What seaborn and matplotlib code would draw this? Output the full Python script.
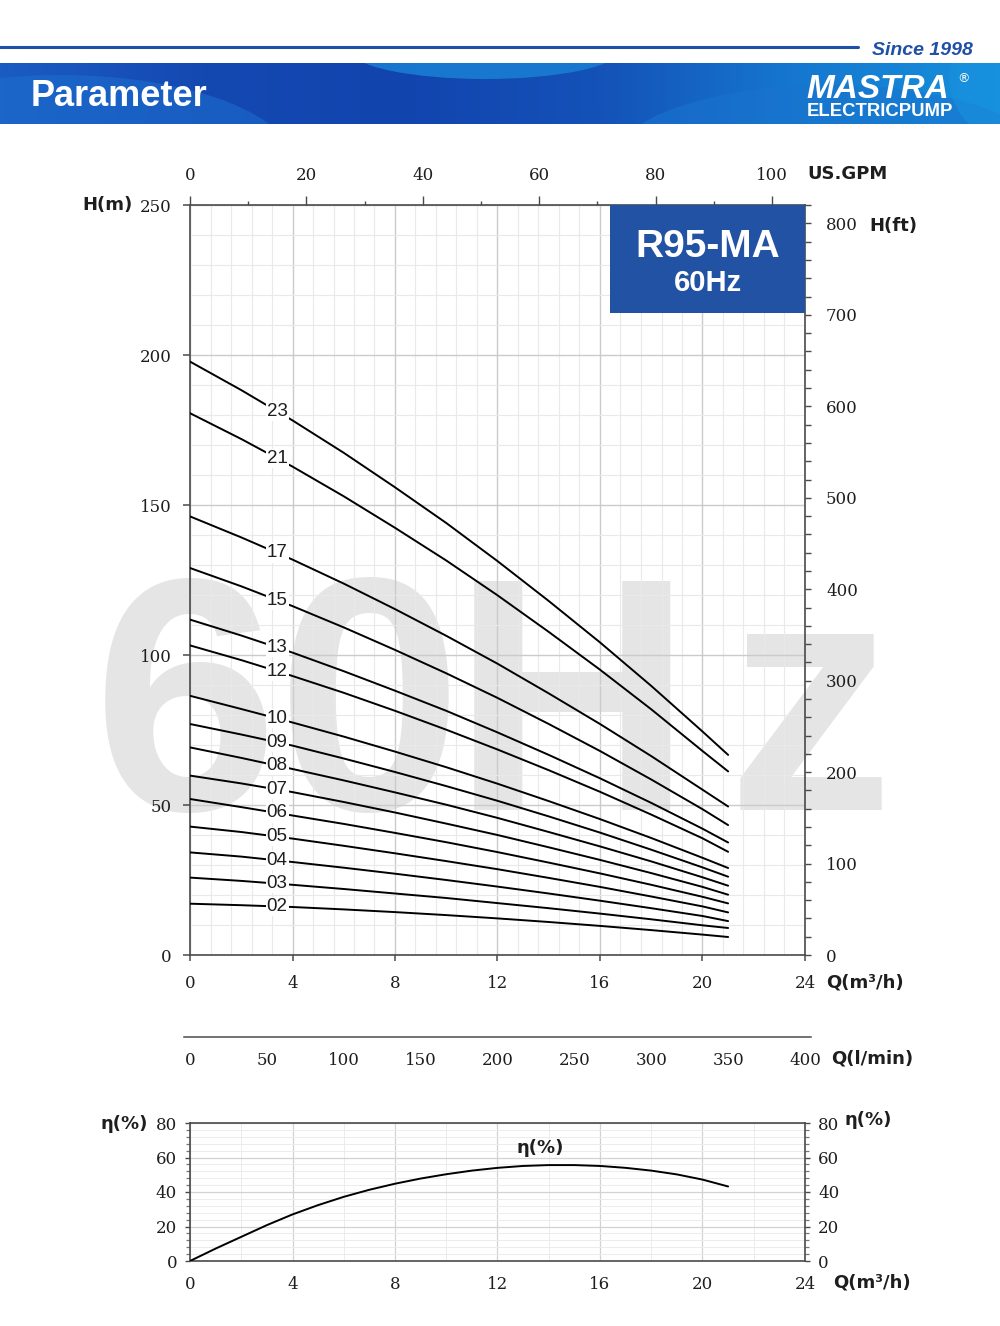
import numpy as np
import pandas as pd
import matplotlib
matplotlib.use("Agg")
import matplotlib.pyplot as plt
from matplotlib.patches import Rectangle, Ellipse
from matplotlib.ticker import MultipleLocator
from matplotlib.colors import LinearSegmentedColormap
import seaborn as sns

# ---------------- data ----------------
flow_m3h = [0, 2, 4, 6, 8, 10, 12, 14, 16, 18, 20, 21]
curve_names = ["23", "21", "17", "15", "13", "12", "10", "09", "08",
               "07", "06", "05", "04", "03", "02"]
head_23 = [197.8, 188.3, 178.2, 167.4, 155.9, 144.0, 131.3, 118.0, 104.2, 89.7, 74.5, 66.7]
head_21 = [180.6, 172.0, 162.8, 152.9, 142.4, 131.5, 119.9, 107.7, 95.1, 81.9, 68.0, 61.2]
head_17 = [146.2, 139.2, 131.8, 123.8, 115.3, 106.4, 97.1, 87.2, 77.0, 66.3, 55.1, 49.5]
head_15 = [129.0, 122.9, 116.3, 109.2, 101.7, 93.9, 85.7, 77.0, 68.0, 58.5, 48.6, 43.3]
head_13 = [111.8, 106.5, 100.8, 94.6, 88.1, 81.4, 74.2, 66.7, 58.9, 50.7, 42.1, 37.5]
head_12 = [103.2, 98.3, 93.0, 87.4, 81.4, 75.1, 68.5, 61.6, 54.4, 46.8, 38.9, 34.4]
head_10 = [86.4, 82.0, 77.5, 72.8, 67.8, 62.6, 57.1, 51.3, 45.3, 39.0, 32.4, 29.0]
head_09 = [77.0, 73.5, 69.8, 65.5, 61.0, 56.3, 51.4, 46.2, 40.8, 35.1, 29.2, 26.1]
head_08 = [69.2, 65.7, 62.0, 58.2, 54.2, 50.1, 45.7, 41.0, 36.2, 31.2, 25.9, 23.1]
head_07 = [59.8, 57.2, 54.3, 51.0, 47.5, 43.8, 40.0, 35.9, 31.7, 27.3, 22.7, 20.1]
head_06 = [52.0, 49.3, 46.5, 43.7, 40.7, 37.6, 34.3, 30.8, 27.2, 23.4, 19.4, 17.2]
head_05 = [42.8, 41.0, 38.8, 36.4, 33.9, 31.3, 28.6, 25.7, 22.7, 19.5, 16.2, 14.2]
head_04 = [34.2, 32.8, 31.0, 29.1, 27.1, 25.0, 22.8, 20.5, 18.1, 15.6, 13.0, 11.3]
head_03 = [25.8, 24.7, 23.4, 22.0, 20.5, 19.0, 17.3, 15.6, 13.8, 11.9, 9.9, 9.0]
head_02 = [17.1, 16.6, 16.0, 15.2, 14.3, 13.3, 12.2, 11.0, 9.7, 8.3, 6.8, 6.0]
heads = [head_23, head_21, head_17, head_15, head_13, head_12, head_10, head_09,
         head_08, head_07, head_06, head_05, head_04, head_03, head_02]

eff_flow = [0, 1, 2, 3, 4, 5, 6, 7, 8, 9, 10, 11, 12, 13, 14, 15, 16, 17, 18, 19, 20, 21]
eff_vals = [0, 7.2, 14.0, 20.8, 27.0, 32.4, 37.2, 41.3, 44.8, 47.8, 50.3, 52.4,
            54.0, 55.1, 55.6, 55.6, 55.1, 54.0, 52.4, 50.2, 47.2, 43.2]

x_ticks_m3h = [0, 4, 8, 12, 16, 20, 24]
y_ticks_m = [0, 50, 100, 150, 200, 250]
y_ticks_ft = [0, 100, 200, 300, 400, 500, 600, 700, 800]
x_ticks_gpm = [0, 20, 40, 60, 80, 100]
x_ticks_lmin = [0, 50, 100, 150, 200, 250, 300, 350, 400]
eff_ticks = [0, 20, 40, 60, 80]

M_TO_FT = 3.28084
M3H_TO_GPM = 4.402868

rows = []
for name, hv in zip(curve_names, heads):
    for q, h in zip(flow_m3h, hv):
        rows.append({"curve": name, "Q": q, "H": h})
df = pd.DataFrame(rows)
df_eff = pd.DataFrame({"Q": eff_flow, "eta": eff_vals})

# ---------------- style ----------------
sns.set_theme(style="white")
plt.rcParams["font.family"] = ["DejaVu Serif"]
plt.rcParams["axes.facecolor"] = "none"

W, Hh = 1000, 1326
def rect(x0, y0, x1, y1):
    return [x0 / W, 1 - y1 / Hh, (x1 - x0) / W, (y1 - y0) / Hh]
def fx(x):
    return x / W
def fy(y):
    return 1 - y / Hh

fig = plt.figure(figsize=(10, 13.26), dpi=100)
fig.patch.set_facecolor("white")

SP = "#4a4a4a"
TXT = "#1e1e1e"
BLUE = "#1f50a8"
TICKFS = 12
PX = 72 / 100.0  # points per pixel

# ---------------- header ----------------
fig.add_artist(plt.Line2D([0, fx(858)], [fy(47), fy(47)], color=BLUE, lw=2.2))
fig.text(fx(872), fy(55), "Since 1998", color=BLUE, fontsize=14, fontweight="bold",
         fontstyle="italic", family="Liberation Sans", va="baseline", ha="left")

hax = fig.add_axes(rect(0, 63, 1000, 124))
hax.set_xlim(0, 1000)
hax.set_ylim(124, 63)
hax.axis("off")
cmap = LinearSegmentedColormap.from_list(
    "hb", ["#1a5cc2", "#1549b2", "#1244ae", "#1452b8", "#1678d0", "#1590dc"])
hax.imshow(np.linspace(0, 1, 600)[None, :], extent=[0, 1000, 124, 63],
           aspect="auto", cmap=cmap, zorder=0)
hax.add_patch(Ellipse((60, 165), 470, 180, color="#1d6fcf", alpha=0.55, lw=0, zorder=1))
hax.add_patch(Ellipse((485, 50), 270, 58, color="#1a80d4", alpha=0.85, lw=0, zorder=1))
hax.add_patch(Ellipse((830, 160), 430, 150, color="#1a74ce", alpha=0.6, lw=0, zorder=1))
hax.add_patch(Ellipse((1010, 80), 120, 120, color="#1a92de", alpha=0.6, lw=0, zorder=1))
hax.text(31, 106, "Parameter", color="white", fontsize=26, fontweight="bold",
         family="Liberation Sans", va="baseline", ha="left", zorder=3)
hax.text(806, 98, "MASTRA", color="white", fontsize=24, fontweight="bold",
         fontstyle="italic", family="Liberation Sans", va="baseline", ha="left", zorder=3)
hax.text(957, 82, "®", color="white", fontsize=9, family="DejaVu Sans",
         va="baseline", ha="left", zorder=3)
hax.text(807, 116, "ELECTRICPUMP", color="white", fontsize=13.3, fontweight="bold",
         family="Liberation Sans", va="baseline", ha="left", zorder=3)

# ---------------- watermark (each glyph placed as in the reference) ----------------
for ch, cx in zip(["6", "0", "H", "z"], [185, 370, 572, 810]):
    fig.text(fx(cx), fy(810), ch, fontsize=240, fontweight="bold", family="Liberation Sans",
             color="#e5e5e5", ha="center", va="baseline", zorder=-5)

# ---------------- main H-Q chart ----------------
ax = fig.add_axes(rect(190, 205, 805, 955))
ax.set_facecolor("none")
sns.lineplot(data=df, x="Q", y="H", units="curve", estimator=None, color="black",
             linewidth=1.4, ax=ax, legend=False, sort=True, zorder=3)
ax.set_xlim(0, 24)
ax.set_ylim(0, 250)
ax.set_xlabel("")
ax.set_ylabel("")
ax.xaxis.set_major_locator(plt.FixedLocator(x_ticks_m3h))
ax.xaxis.set_minor_locator(MultipleLocator(0.8))
ax.yaxis.set_major_locator(plt.FixedLocator(y_ticks_m))
ax.yaxis.set_minor_locator(MultipleLocator(10))
ax.grid(which="major", color="#cbcbcb", lw=1.0, zorder=0)
ax.grid(which="minor", color="#e9e9e9", lw=0.8, zorder=0)
ax.set_axisbelow(True)
ax.tick_params(axis="both", which="minor", length=0)
ax.tick_params(axis="x", which="major", direction="out", length=6 * PX, width=1.1,
               color=SP, labelsize=TICKFS, labelcolor=TXT, pad=14 * PX)
ax.tick_params(axis="y", which="major", direction="out", length=7 * PX, width=1.1,
               color=SP, labelsize=TICKFS, labelcolor=TXT, pad=11 * PX)
ax.set_xticklabels([str(t) for t in x_ticks_m3h])
ax.set_yticklabels([str(t) for t in y_ticks_m])
for s in ax.spines.values():
    s.set_color(SP)
    s.set_linewidth(1.2)
    s.set_visible(True)

# curve labels
for name, hv in zip(curve_names, heads):
    yv = np.interp(3.4, flow_m3h, hv)
    ax.text(3.4, yv, name, fontsize=13.5, family="Liberation Sans", color=TXT,
            ha="center", va="center", zorder=5,
            bbox=dict(boxstyle="square,pad=0.06", fc="white", ec="none"))

# model box
ax.add_patch(Rectangle((0.683, 0.856), 0.317, 0.144, transform=ax.transAxes,
                       color="#2152a3", zorder=6, lw=0))
ax.text(0.8415, 0.9307, "R95-MA", transform=ax.transAxes, color="white", fontsize=28,
        fontweight="bold", family="Liberation Sans", ha="center", va="baseline", zorder=7)
ax.text(0.8415, 0.8853, "60Hz", transform=ax.transAxes, color="white", fontsize=21,
        fontweight="bold", family="Liberation Sans", ha="center", va="baseline", zorder=7)

# right: H(ft)
axr = ax.twinx()
axr.set_ylim(0, 250 * M_TO_FT)
axr.yaxis.set_major_locator(plt.FixedLocator(y_ticks_ft))
axr.yaxis.set_minor_locator(MultipleLocator(20))
axr.set_yticklabels([str(t) for t in y_ticks_ft])
axr.tick_params(axis="y", which="both", direction="out", length=6 * PX, width=1.0,
                color=SP, labelsize=TICKFS, labelcolor=TXT, pad=15 * PX)
axr.grid(False)
for s in axr.spines.values():
    s.set_visible(False)

# top: US.GPM
axt = ax.twiny()
axt.set_xlim(0, 24 * M3H_TO_GPM)
axt.xaxis.set_major_locator(plt.FixedLocator(x_ticks_gpm))
axt.xaxis.set_minor_locator(MultipleLocator(10))
axt.set_xticklabels([str(t) for t in x_ticks_gpm])
axt.tick_params(axis="x", which="major", direction="out", length=9 * PX, width=1.0,
                color=SP, labelsize=TICKFS, labelcolor=TXT, pad=12 * PX)
axt.tick_params(axis="x", which="minor", direction="out", length=4 * PX, width=1.0, color=SP)
axt.grid(False)
for s in axt.spines.values():
    s.set_visible(False)

TFS = 13
fig.text(fx(82), fy(205), "H(m)", fontsize=TFS, fontweight="bold", family="DejaVu Sans",
         color=TXT, ha="left", va="center")
fig.text(fx(807), fy(174), "US.GPM", fontsize=TFS, fontweight="bold", family="DejaVu Sans",
         color=TXT, ha="left", va="center")
fig.text(fx(869), fy(226), "H(ft)", fontsize=TFS, fontweight="bold", family="DejaVu Sans",
         color=TXT, ha="left", va="center")
fig.text(fx(826), fy(983), "Q(m³/h)", fontsize=TFS, fontweight="bold", family="DejaVu Sans",
         color=TXT, ha="left", va="center")

# ---------------- l/min axis ----------------
px_l = 400.0 / 615.0
axl = fig.add_axes(rect(184, 1036, 811, 1037))
axl.set_xlim(-6 * px_l, 400 + 6 * px_l)
axl.set_ylim(0, 1)
axl.set_yticks([])
axl.xaxis.set_major_locator(plt.FixedLocator(x_ticks_lmin))
axl.xaxis.set_minor_locator(MultipleLocator(25))
axl.set_xticklabels([str(t) for t in x_ticks_lmin])
axl.tick_params(axis="x", which="major", direction="out", length=5 * PX, width=1.0,
                color=SP, labelsize=TICKFS, labelcolor=TXT, pad=10 * PX)
axl.tick_params(axis="x", which="minor", direction="out", length=4 * PX, width=0.9, color=SP)
axl.grid(False)
for k, s in axl.spines.items():
    s.set_visible(k == "bottom")
axl.spines["bottom"].set_color(SP)
axl.spines["bottom"].set_linewidth(1.1)
fig.text(fx(831), fy(1058), "Q(l/min)", fontsize=TFS, fontweight="bold", family="DejaVu Sans",
         color=TXT, ha="left", va="center")

# ---------------- efficiency chart ----------------
axe = fig.add_axes(rect(190, 1123, 805, 1261))
axe.set_facecolor("none")
sns.lineplot(data=df_eff, x="Q", y="eta", color="black", linewidth=1.4, ax=axe,
             legend=False, zorder=3)
axe.set_xlim(0, 24)
axe.set_ylim(0, 80)
axe.set_xlabel("")
axe.set_ylabel("")
axe.xaxis.set_major_locator(plt.FixedLocator(x_ticks_m3h))
axe.xaxis.set_minor_locator(MultipleLocator(2))
axe.yaxis.set_major_locator(plt.FixedLocator(eff_ticks))
axe.yaxis.set_minor_locator(MultipleLocator(4))
axe.set_xticklabels([str(t) for t in x_ticks_m3h])
axe.set_yticklabels([str(t) for t in eff_ticks])
axe.grid(which="major", color="#d2d2d2", lw=0.9, zorder=0)
axe.grid(which="minor", color="#ececec", lw=0.7, zorder=0)
axe.set_axisbelow(True)
axe.tick_params(axis="x", which="major", direction="out", length=5 * PX, width=1.0,
                color=SP, labelsize=TICKFS, labelcolor=TXT, pad=10 * PX)
axe.tick_params(axis="x", which="minor", direction="out", length=3 * PX, width=0.9, color=SP)
axe.tick_params(axis="y", which="major", direction="out", length=5 * PX, width=1.0,
                color=SP, labelsize=TICKFS, labelcolor=TXT, pad=8 * PX,
                left=True, right=True, labelleft=True, labelright=True)
axe.tick_params(axis="y", which="minor", direction="out", length=4 * PX, width=0.9,
                color="#777777", left=True, right=True)
for s in axe.spines.values():
    s.set_color(SP)
    s.set_linewidth(1.2)
    s.set_visible(True)
axe.text(13.66, 65.5, "η(%)", fontsize=TFS, fontweight="bold", family="DejaVu Sans",
         color=TXT, ha="center", va="center")
fig.text(fx(100), fy(1124), "η(%)", fontsize=TFS, fontweight="bold", family="DejaVu Sans",
         color=TXT, ha="left", va="center")
fig.text(fx(845), fy(1120), "η(%)", fontsize=TFS, fontweight="bold", family="DejaVu Sans",
         color=TXT, ha="left", va="center")
fig.text(fx(833), fy(1282), "Q(m³/h)", fontsize=TFS, fontweight="bold", family="DejaVu Sans",
         color=TXT, ha="left", va="center")

fig.savefig("out.png", dpi=100, facecolor="white")
